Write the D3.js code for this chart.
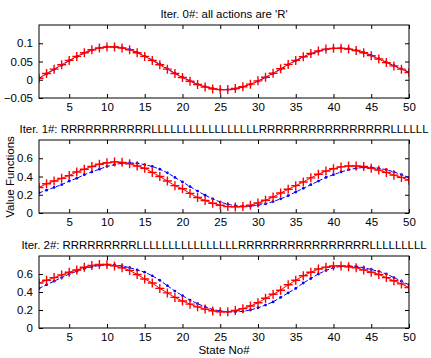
<!DOCTYPE html>
<html>
<head>
<meta charset="utf-8">
<style>
  body { margin: 0; background: #fff; }
  svg text { font-family: "Liberation Sans", Arial, sans-serif; fill: #000; }
  .axis path { display: none; }
  .axis line { stroke: #000; }
</style>
</head>
<body>
<svg id="container" width="431" height="358"></svg>

<script src="https://d3js.org/d3.v7.min.js"></script>
<script>
  // states 1..50
  const states = d3.range(1, 51)

  const titles = [
    "Iter. 0#: all actions are 'R'",
    "Iter. 1#: RRRRRRRRRRRLLLLLLLLLLLLLLLLLRRRRRRRRRRRRRRRRLLLLLL",
    "Iter. 2#: RRRRRRRRRLLLLLLLLLLLLLLLLRRRRRRRRRRRRRRRRLLLLLLLLL"
  ]

  // iteration 0
  const red0 = [0.004, 0.017, 0.029, 0.041, 0.053, 0.064, 0.074, 0.082, 0.087, 0.090,
    0.090, 0.087, 0.082, 0.074, 0.064, 0.053, 0.041, 0.029, 0.017, 0.006,
    -0.004, -0.013, -0.020, -0.025, -0.027, -0.027, -0.024, -0.019, -0.012, -0.003,
    0.007, 0.018, 0.030, 0.042, 0.053, 0.063, 0.072, 0.079, 0.084, 0.086,
    0.086, 0.084, 0.080, 0.074, 0.066, 0.057, 0.047, 0.038, 0.029, 0.020]
  const blue0 = [0.004, 0.016, 0.028, 0.040, 0.052, 0.063, 0.073, 0.081, 0.087, 0.090,
    0.090, 0.088, 0.083, 0.075, 0.065, 0.054, 0.043, 0.030, 0.018, 0.007,
    -0.003, -0.012, -0.019, -0.024, -0.027, -0.027, -0.025, -0.020, -0.013, -0.004,
    0.006, 0.017, 0.029, 0.041, 0.052, 0.062, 0.071, 0.078, 0.083, 0.086,
    0.087, 0.085, 0.081, 0.075, 0.067, 0.058, 0.048, 0.039, 0.030, 0.021]

  // iteration 1
  const red1 = [0.28, 0.32, 0.35, 0.38, 0.41, 0.45, 0.48, 0.51, 0.535, 0.55,
    0.56, 0.555, 0.54, 0.515, 0.49, 0.445, 0.40, 0.35, 0.30, 0.265,
    0.215, 0.17, 0.137, 0.107, 0.085, 0.07, 0.067, 0.07, 0.085, 0.11,
    0.14, 0.175, 0.22, 0.26, 0.30, 0.34, 0.385, 0.425, 0.46, 0.485,
    0.505, 0.515, 0.515, 0.51, 0.49, 0.47, 0.445, 0.415, 0.39, 0.36]
  const blue1 = [0.22, 0.25, 0.28, 0.31, 0.35, 0.38, 0.42, 0.45, 0.48, 0.51,
    0.53, 0.545, 0.55, 0.545, 0.53, 0.51, 0.48, 0.44, 0.39, 0.34,
    0.29, 0.24, 0.195, 0.155, 0.12, 0.095, 0.08, 0.075, 0.075, 0.085,
    0.10, 0.125, 0.155, 0.19, 0.23, 0.27, 0.31, 0.35, 0.39, 0.42,
    0.45, 0.475, 0.49, 0.50, 0.50, 0.49, 0.475, 0.45, 0.42, 0.39]

  // iteration 2
  const red2 = [0.50, 0.53, 0.56, 0.59, 0.62, 0.645, 0.675, 0.695, 0.705, 0.705,
    0.69, 0.67, 0.64, 0.595, 0.545, 0.50, 0.44, 0.39, 0.34, 0.30,
    0.265, 0.235, 0.21, 0.19, 0.18, 0.18, 0.195, 0.215, 0.245, 0.28,
    0.33, 0.375, 0.42, 0.48, 0.53, 0.58, 0.62, 0.655, 0.675, 0.69,
    0.69, 0.68, 0.67, 0.645, 0.62, 0.595, 0.56, 0.525, 0.49, 0.45]
  const blue2 = [0.44, 0.48, 0.52, 0.56, 0.60, 0.63, 0.66, 0.68, 0.695, 0.70,
    0.70, 0.69, 0.67, 0.645, 0.62, 0.58, 0.53, 0.47, 0.41, 0.36,
    0.31, 0.27, 0.235, 0.205, 0.19, 0.18, 0.18, 0.185, 0.20, 0.225,
    0.255, 0.29, 0.34, 0.39, 0.44, 0.50, 0.55, 0.60, 0.64, 0.67,
    0.685, 0.69, 0.685, 0.67, 0.65, 0.63, 0.60, 0.56, 0.52, 0.48]

  const yTicks0 = [-0.05, 0, 0.05, 0.1]
  const yTicks12 = [0, 0.2, 0.4, 0.6]
  const xTicks = [5, 10, 15, 20, 25, 30, 35, 40, 45, 50]

  const panels = [
    { title: titles[0], red: red0, blue: blue0, ydom: [-0.05, 0.15], yt: yTicks0, top: 25, bottom: 98 },
    { title: titles[1], red: red1, blue: blue1, ydom: [0, 0.8], yt: yTicks12, top: 140, bottom: 213 },
    { title: titles[2], red: red2, blue: blue2, ydom: [0, 0.8], yt: yTicks12, top: 256, bottom: 328 }
  ]

  const left = 39, right = 409
  const svg = d3.select('#container')
  const fmt = d => d === 0 ? '0' : String(d).replace('-', '\u2212')

  const xScale = d3.scaleLinear().domain([1, 50]).range([left, right])

  panels.forEach(p => {
    const yScale = d3.scaleLinear().domain(p.ydom).range([p.bottom, p.top])
    const g = svg.append('g')

    // ticks pointing inward on all four sides
    g.append('g').attr('class', 'axis')
      .attr('transform', `translate(0,${p.bottom})`)
      .call(d3.axisBottom(xScale).tickValues(xTicks).tickSizeInner(-4).tickSizeOuter(0).tickPadding(5))
      .selectAll('text').attr('font-size', '11.5px')
    g.append('g').attr('class', 'axis')
      .attr('transform', `translate(0,${p.top})`)
      .call(d3.axisTop(xScale).tickValues(xTicks).tickSizeInner(-4).tickSizeOuter(0).tickFormat(''))
    g.append('g').attr('class', 'axis')
      .attr('transform', `translate(${left},0)`)
      .call(d3.axisLeft(yScale).tickValues(p.yt).tickSizeInner(-4).tickSizeOuter(0).tickPadding(6).tickFormat(fmt))
      .selectAll('text').attr('font-size', '11.5px')
    g.append('g').attr('class', 'axis')
      .attr('transform', `translate(${right},0)`)
      .call(d3.axisRight(yScale).tickValues(p.yt).tickSizeInner(-4).tickSizeOuter(0).tickFormat(''))
    g.selectAll('.axis text').attr('font-family', '"Liberation Sans", Arial, sans-serif')

    const clipId = 'clip' + p.top
    svg.append('clipPath').attr('id', clipId)
      .append('rect').attr('x', left).attr('y', p.top)
      .attr('width', right - left).attr('height', p.bottom - p.top)

    const line = d3.line().x((d, i) => xScale(states[i])).y(d => yScale(d))

    const plot = g.append('g').attr('clip-path', `url(#${clipId})`)

    // blue dashed with dots
    plot.append('path').datum(p.blue)
      .attr('d', line).attr('fill', 'none')
      .attr('stroke', '#0000ff').attr('stroke-width', 1)
      .attr('stroke-dasharray', '4,2')
    plot.selectAll('circle').data(p.blue).enter().append('circle')
      .attr('cx', (d, i) => xScale(states[i])).attr('cy', d => yScale(d))
      .attr('r', 1.4).attr('fill', '#0000ff')

    // red solid with plus markers
    plot.append('path').datum(p.red)
      .attr('d', line).attr('fill', 'none')
      .attr('stroke', '#ff0000').attr('stroke-width', 1)
    plot.selectAll('path.plus').data(p.red).enter().append('path')
      .attr('class', 'plus')
      .attr('d', (d, i) => {
        const x = xScale(states[i]), y = yScale(d), s = 4.5
        return `M${x - s},${y}H${x + s}M${x},${y - s}V${y + s}`
      })
      .attr('stroke', '#ff0000').attr('stroke-width', 1.4).attr('fill', 'none')

    // frame
    g.append('rect').attr('x', left).attr('y', p.top)
      .attr('width', right - left).attr('height', p.bottom - p.top)
      .attr('fill', 'none').attr('stroke', '#000').attr('stroke-width', 1)

    // title
    g.append('text').attr('x', (left + right) / 2).attr('y', p.top - 7)
      .attr('text-anchor', 'middle').attr('font-size', '11.4px')
      .text(p.title)
  })

  svg.append('text').attr('x', (left + right) / 2).attr('y', 354)
    .attr('text-anchor', 'middle').attr('font-size', '11.5px').text('State No#')

  svg.append('text').attr('transform', 'translate(14,177) rotate(-90)')
    .attr('text-anchor', 'middle').attr('font-size', '11.5px').text('Value Functions')
</script>
</body>
</html>
